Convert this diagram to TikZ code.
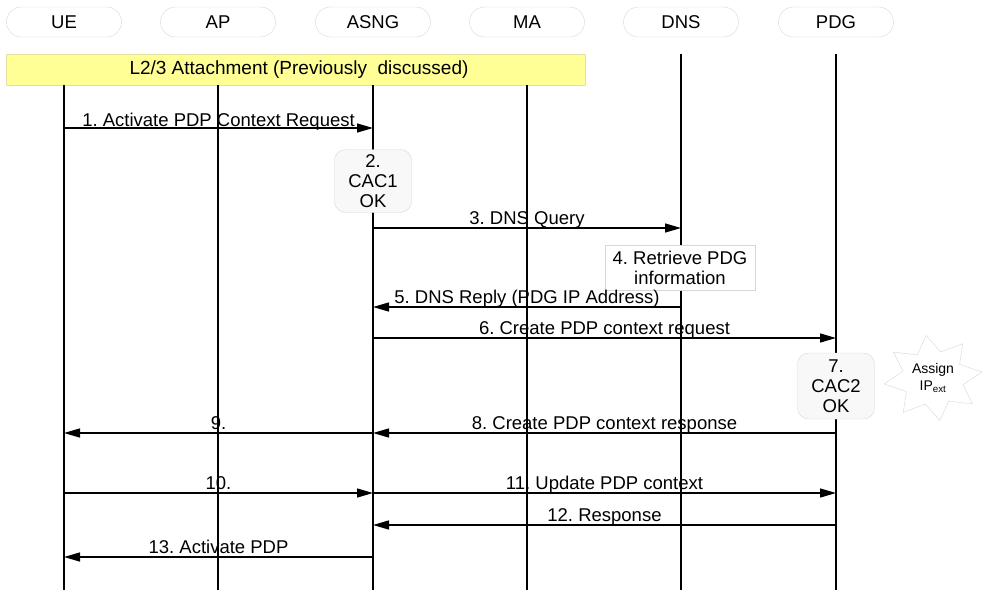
\documentclass[tikz,border=0pt]{standalone}
\usepackage{fontspec}
\setmainfont{Liberation Sans}
\usetikzlibrary{arrows.meta,shapes.geometric}
\definecolor{barfill}{RGB}{255,255,150}
\definecolor{barline}{RGB}{225,225,160}
\definecolor{boxline}{RGB}{215,215,215}
\definecolor{boxfill}{RGB}{248,248,248}
\frenchspacing
\begin{document}
\begin{tikzpicture}[x=1pt,y=-1pt,
  every node/.style={font=\fontsize{18.5}{20}\selectfont},
  actor/.style={draw=boxline, fill=white, rounded corners=15pt, minimum width=115pt, minimum height=30pt, inner sep=0pt},
  life/.style={line width=2.2pt},
  msg/.style={line width=1.4pt, -{Triangle[length=16pt,width=9pt]}},
  lbl/.style={anchor=base, yshift=3.5pt, inner sep=0pt},
  note/.style={draw=boxline, fill=boxfill, rounded corners=11pt, align=center, minimum width=77pt, minimum height=63pt, inner sep=0pt},
]
\useasboundingbox (0,0) rectangle (985,590);

% actors
\node[actor] (ue)   at (64,22)  {UE};
\node[actor] (ap)   at (218,22) {AP};
\node[actor] (asng) at (373,22) {ASNG};
\node[actor] (ma)   at (527,22) {MA};
\node[actor] (dns)  at (681,22) {DNS};
\node[actor] (pdg)  at (836,22) {PDG};

% attachment bar
\node[draw=barline, fill=barfill, minimum width=579pt, minimum height=31pt, inner sep=0pt] (att) at (295.5,69.5) {};
\node[inner sep=0pt, font=\fontsize{19}{20}\selectfont] (atttext) at (299,69.5) {L2/3 Attachment (Previously~ discussed)};

% lifelines
\coordinate (bot) at (0,590);
\draw[life] (ue |- att.south) -- (ue |- bot);
\draw[life] (ap |- att.south) -- (ap |- bot);
\draw[life] (asng |- att.south) -- (asng |- bot);
\draw[life] (ma |- att.south) -- (ma |- bot);
\draw[life] (dns |- att.north) -- (dns |- bot);
\draw[life] (pdg |- att.north) -- (pdg |- bot);

% message rows
\coordinate (m1) at (0,128);
\coordinate (m3) at (0,228);
\coordinate (m5) at (0,307);
\coordinate (m6) at (0,338);
\coordinate (m8) at (0,433);
\coordinate (m10) at (0,493);
\coordinate (m12) at (0,525);
\coordinate (m13) at (0,557);

% notes
\node[note] (cac1) at (373,181) {2.\\CAC1\\OK};
\node[draw=boxline, fill=white, align=center, minimum width=150pt, minimum height=45pt, inner sep=0pt] (ret) at (680,267.5) {4. Retrieve PDG\\information};
\node[note, minimum height=66pt] (cac2) at (836,386) {7.\\CAC2\\OK};
\node[star, star points=8, star point ratio=1.6, draw=boxline, fill=white, minimum size=86pt, inner sep=0pt,
      transform shape, xscale=1.15, rotate=8] (assignstar) at (933,378) {};
\node[align=center, inner sep=0pt, font=\fontsize{14}{17}\selectfont] (assign) at (assignstar.center) {Assign\\IP\textsubscript{ext}};

% messages
\draw[msg] (ue |- m1) -- (asng |- m1) node[lbl, midway, yshift=-2pt] {1. Activate PDP Context Request};
\draw[msg] (asng |- m3) -- (dns |- m3) node[lbl, midway] {3. DNS Query};
\draw[msg] (dns |- m5) -- (asng |- m5) node[lbl, midway] {5. DNS Reply (PDG IP Address)};
\draw[msg] (asng |- m6) -- (pdg |- m6) node[lbl, midway] {6. Create PDP context request};
\draw[msg] (pdg |- m8) -- (asng |- m8) node[lbl, midway] {8. Create PDP context response};
\draw[msg] (asng |- m8) -- (ue |- m8) node[lbl, midway] {9.};
\draw[msg] (ue |- m10) -- (asng |- m10) node[lbl, midway] {10.};
\draw[msg] (asng |- m10) -- (pdg |- m10) node[lbl, midway] {11. Update PDP context};
\draw[msg] (pdg |- m12) -- (asng |- m12) node[lbl, midway] {12. Response};
\draw[msg] (asng |- m13) -- (ue |- m13) node[lbl, midway] {13. Activate PDP};
\end{tikzpicture}
\end{document}
